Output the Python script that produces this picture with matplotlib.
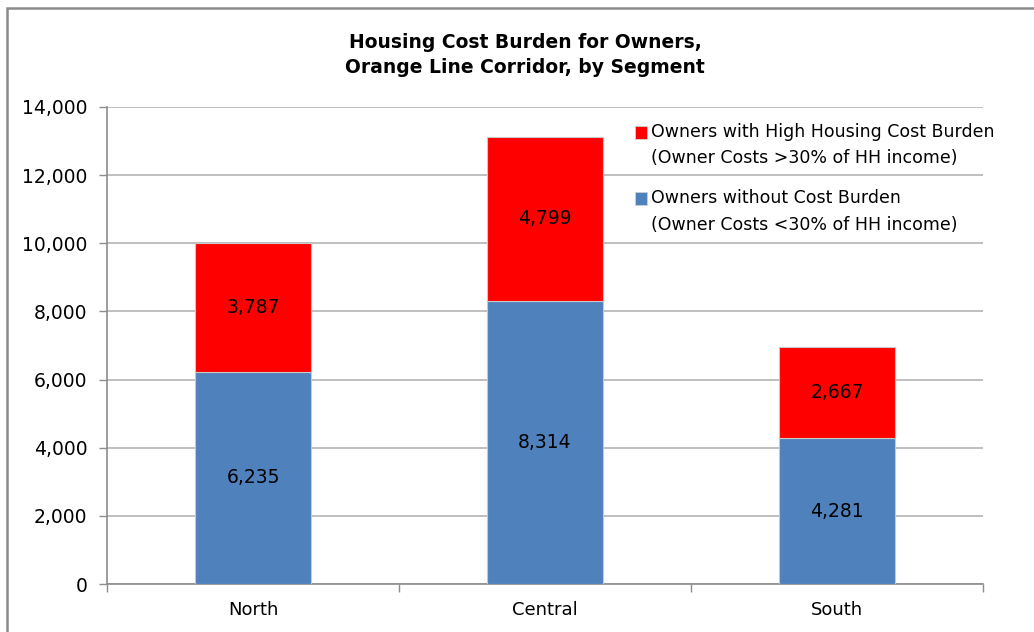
import matplotlib.pyplot as plt
from matplotlib.patches import Rectangle
import numpy as np

plt.rcParams['font.family'] = ['DejaVu Sans']

# datos
segmentos = ["North", "Central", "South"]
sin_carga = [6235, 8314, 4281]
carga_alta = [3787, 4799, 2667]
etiquetas_leyenda = [
    ("Owners with High Housing Cost Burden", "(Owner Costs >30% of HH income)"),
    ("Owners without Cost Burden", "(Owner Costs <30% of HH income)"),
]
colores = ["#FF0000", "#4F81BD"]
yticks = [0, 2000, 4000, 6000, 8000, 10000, 12000, 14000]

fig = plt.figure(figsize=(10.34, 6.32), dpi=100)
ax = fig.add_axes([107/1034, 48/632, 876/1034, 477/632])

x = np.arange(len(segmentos))
ancho = 0.4
ax.bar(x, sin_carga, width=ancho, color=colores[1], edgecolor="#c8c8c8", linewidth=0.8, zorder=3)
ax.bar(x, carga_alta, width=ancho, bottom=sin_carga, color=colores[0], edgecolor="#c8c8c8", linewidth=0.8, zorder=3)

# etiquetas dentro de las barras
for i in range(len(segmentos)):
    ax.text(x[i], sin_carga[i] / 2, f"{sin_carga[i]:,}", ha="center", va="center", fontsize=13.5, zorder=4)
    ax.text(x[i], sin_carga[i] + carga_alta[i] / 2, f"{carga_alta[i]:,}", ha="center", va="center", fontsize=13.5, zorder=4)

ax.set_xlim(-0.5, len(segmentos) - 0.5)
ax.set_ylim(0, 14000)
ax.set_yticks(yticks)
ax.set_yticklabels([f"{v:,}" for v in yticks], fontsize=13.5)
ax.set_xticks(x)
ax.set_xticklabels(segmentos, fontsize=13)
ax.tick_params(axis="x", length=0, pad=12)
ax.set_xticks(np.arange(len(segmentos) + 1) - 0.5, minor=True)
ax.tick_params(axis="x", which="minor", length=6, color="#8c8c8c", width=1)
ax.tick_params(axis="y", length=6, color="#8c8c8c", width=1, pad=8)
ax.grid(axis="y", color="#b4b4b4", linewidth=1.2, zorder=0)
ax.set_axisbelow(True)
for lado in ["top", "right"]:
    ax.spines[lado].set_visible(False)
for lado in ["left", "bottom"]:
    ax.spines[lado].set_color("#8c8c8c")
    ax.spines[lado].set_linewidth(1.2)

# leyenda manual
ys = [(0.9476, 0.8931), (0.8092, 0.7526)]
for (l1, l2), c, (y1, y2) in zip(etiquetas_leyenda, colores, ys):
    ax.add_patch(Rectangle((0.6027, y1 - 0.0155), 0.0137, 0.0273, transform=ax.transAxes,
                           facecolor=c, edgecolor="#d0d0d0", linewidth=0.6, clip_on=False, zorder=5))
    ax.text(0.621, y1, l1, transform=ax.transAxes, va="center", ha="left", fontsize=12.5)
    ax.text(0.621, y2, l2, transform=ax.transAxes, va="center", ha="left", fontsize=12.5)

fig.text(0.508, 1 - 55/632, "Housing Cost Burden for Owners,\nOrange Line Corridor, by Segment",
         ha="center", va="center", fontsize=13.5, fontweight="bold", linespacing=1.4)

# marco exterior
fig.patches.append(Rectangle((7/1034, -0.1), 1.2, 1 - 8/632 + 0.1, transform=fig.transFigure,
                             facecolor="none", edgecolor="#8a8a8a", linewidth=1.8))

fig.savefig("out.png", dpi=100)
